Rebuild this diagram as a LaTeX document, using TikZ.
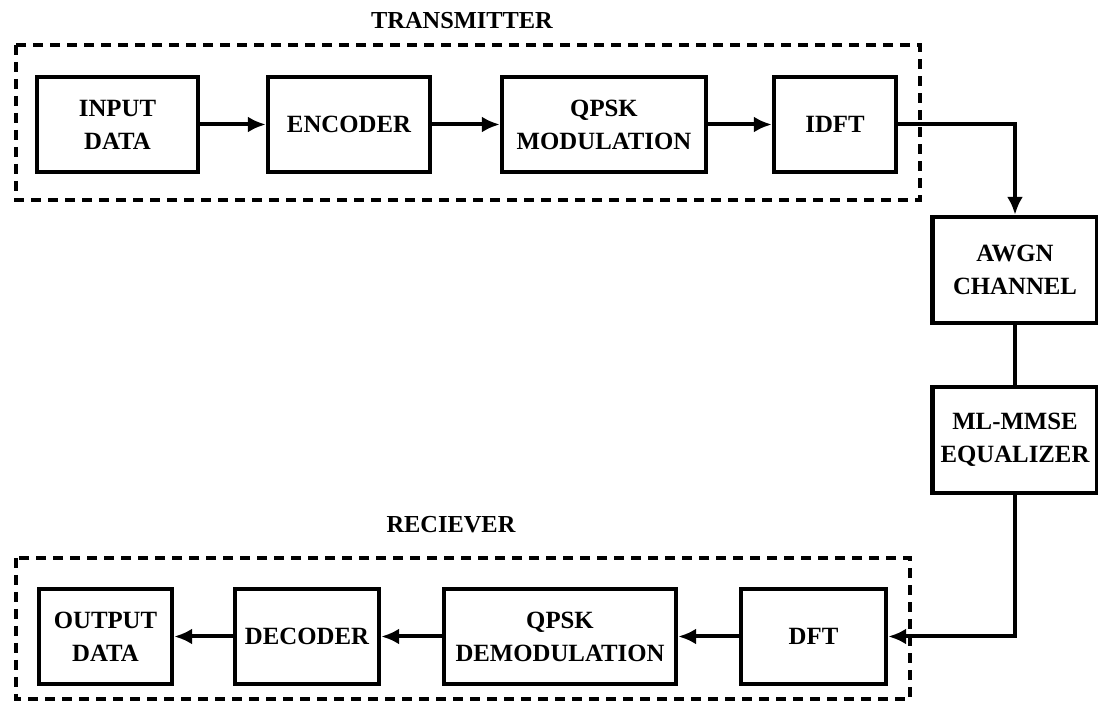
\documentclass[tikz,border=0pt]{standalone}
\usepackage{fontspec}
\setmainfont{Liberation Serif}
\usetikzlibrary{arrows.meta}
\tikzset{
  blk/.style={draw, line width=2.2pt, minimum height=47.5pt, inner sep=0pt,
              align=center, font=\bfseries\fontsize{12.4}{16.5}\selectfont},
  grp/.style={line width=2.2pt, dash pattern=on 5pt off 3.5pt},
  lbl/.style={font=\bfseries\fontsize{12.2}{14}\selectfont},
  flow/.style={line width=2pt, -{Latex[length=9pt,width=8pt]}}
}
\begin{document}
\begin{tikzpicture}[x=0.5pt, y=-0.5pt]
  \useasboundingbox (0,0) rectangle (1098,704);
  % transmitter
  \node [lbl] (txlbl) at (462,21) {TRANSMITTER};
  \draw [grp] (16,45) rectangle (920,200);
  \node [blk, minimum width=80.5pt] (indata) at (117.5,124.5) {INPUT\\DATA};
  \node [blk, minimum width=81pt] (enc) at (349,124.5) {ENCODER};
  \node [blk, minimum width=102pt] (qmod) at (604,124.5) {QPSK\\MODULATION};
  \node [blk, minimum width=61pt] (idft) at (835,124.5) {IDFT};
  % channel
  \node [blk, minimum width=82.5pt, minimum height=53pt] (awgn) at (1015,270) {AWGN\\CHANNEL};
  \node [blk, minimum width=82.5pt, minimum height=53pt] (mmse) at (1015,440) {ML-MMSE\\EQUALIZER};
  % receiver
  \node [lbl] (rxlbl) at (451,525) {RECIEVER};
  \draw [grp] (16,558) rectangle (910,699);
  \node [blk, minimum width=66.5pt] (outdata) at (105.5,636.5) {OUTPUT\\DATA};
  \node [blk, minimum width=72pt] (dec) at (307,636.5) {DECODER};
  \node [blk, minimum width=116pt] (qdem) at (560,636.5) {QPSK\\DEMODULATION};
  \node [blk, minimum width=72.5pt] (dft) at (813.5,636.5) {DFT};

  \draw [flow] (indata) -- (enc);
  \draw [flow] (enc) -- (qmod);
  \draw [flow] (qmod) -- (idft);
  \draw [flow] (idft.east) -| (awgn.north);
  \draw [line width=2pt] (awgn.south) -- (mmse.north);
  \draw [flow] (mmse.south) |- (dft.east);
  \draw [flow] (dft) -- (qdem);
  \draw [flow] (qdem) -- (dec);
  \draw [flow] (dec) -- (outdata);
\end{tikzpicture}
\end{document}
